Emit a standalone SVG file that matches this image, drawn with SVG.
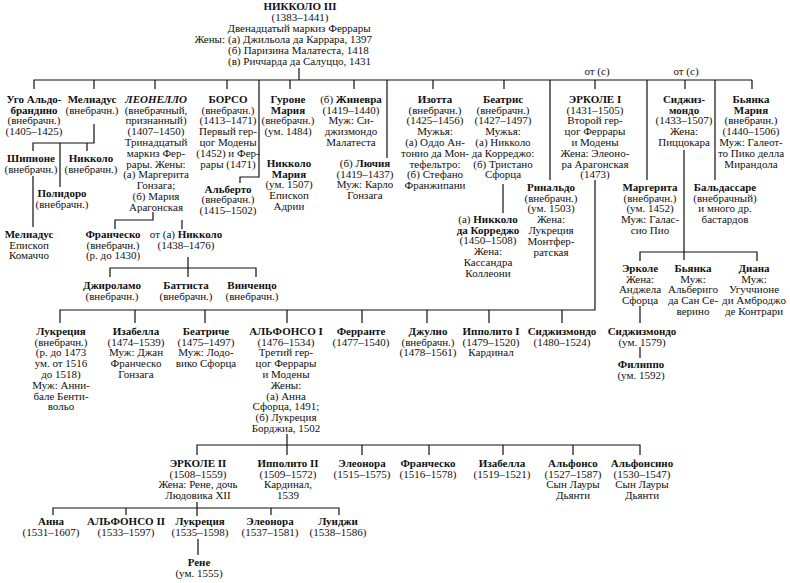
<svg xmlns="http://www.w3.org/2000/svg" width="790" height="583" viewBox="0 0 790 583">
<style>
text{font-family:"Liberation Serif","Times New Roman",serif;font-size:11px;fill:#111;text-anchor:middle}
.b{font-weight:bold}
.i{font-style:italic}
.ln{fill:none;stroke:#111;stroke-width:1.2}
</style>
<rect width="790" height="583" fill="#fff"/>
<g id="connectors" class="ln">
<path d="M299 68V80M34 89V80H752M94 80V89M155 80V89M227 80V89M290 80V89M354 80V89M433 80V89M504 80V89M595 80V89M685 80V89M752 80V89"/>
<path d="M259 80V177H240V183M387 80V158M550 80V180M647 80V180M715 80V180"/>
<path d="M94 124V143H33V151M60 143V187M87 143V151M33 176V227"/>
<path d="M153 212V220H115V229M182 220V229M188 257V277M110 277V268H256V277"/>
<path d="M595 180V310H60V323M135 310V323M205 310V323M287 310V323M362 310V323M427 310V323M489 310V323M562 310V323"/>
<path d="M503 184V213"/>
<path d="M684 150V260M640 261V252H757V261M640 306V323M640 347V358"/>
<path d="M287 434V455M197 455V445H640V455M362 445V455M429 445V455M503 445V455M573 445V455"/>
<path d="M197 502V516M53 515V508H339V515M126 508V515M271 508V515M198 539V555"/>
</g>
<g id="n-niccolo3"><text><tspan class="b" x="300" y="10.3">НИККОЛО III</tspan><tspan x="300" y="21.3">(1383–1441)</tspan><tspan x="299" y="32.3">Двенадцатый маркиз Феррары</tspan><tspan x="225" y="43.3" style="text-anchor:end">Жены:</tspan></text>
<text style="text-anchor:start"><tspan x="228" y="43.3">(а) Джильола да Каррара, 1397</tspan><tspan x="228" y="54.3">(б) Паризина Малатеста, 1418</tspan><tspan x="228" y="65.3">(в) Риччарда да Салуццо, 1431</tspan></text></g>
<g id="lbl-c1"><text x="597" y="74.5">от (с)</text></g>
<g id="lbl-c2"><text x="686" y="74.5">от (с)</text></g>
<g id="n-ugo"><text><tspan class="b" x="34" y="102.8">Уго Альдо-</tspan><tspan class="b" x="34" y="113.6">брандино</tspan><tspan x="34" y="124.4">(внебрачн.)</tspan><tspan x="34" y="135.2">(1405–1425)</tspan></text></g>
<g id="n-meliaduse"><text><tspan class="b" x="92" y="102.8">Мелиадус</tspan><tspan x="92" y="113.6">(внебрачн.)</tspan></text></g>
<g id="n-leonello"><text><tspan class="b i" x="156" y="102.8">ЛЕОНЕЛЛО</tspan><tspan x="156" y="113.6">(внебрачный,</tspan><tspan x="156" y="124.4">признанный)</tspan><tspan x="156" y="135.2">(1407–1450)</tspan><tspan x="156" y="146">Тринадцатый</tspan><tspan x="156" y="156.8">маркиз Фер-</tspan><tspan x="156" y="167.6">рары. Жены:</tspan><tspan x="156" y="178.4">(а) Маргерита</tspan><tspan x="156" y="189.2">Гонзага;</tspan><tspan x="156" y="200">(б) Мария</tspan><tspan x="156" y="210.8">Арагонская</tspan></text></g>
<g id="n-borso"><text><tspan class="b" x="228" y="102.8">БОРСО</tspan><tspan x="228" y="113.6">(внебрачн.)</tspan><tspan x="228" y="124.4">(1413–1471)</tspan><tspan x="228" y="135.2">Первый гер-</tspan><tspan x="228" y="146">цог Модены</tspan><tspan x="228" y="156.8">(1452) и Фер-</tspan><tspan x="228" y="167.6">рары (1471)</tspan></text></g>
<g id="n-gurone"><text><tspan class="b" x="288" y="102.8">Гуроне</tspan><tspan class="b" x="288" y="113.6">Мария</tspan><tspan x="288" y="124.4">(внебрачн.)</tspan><tspan x="288" y="135.2">(ум. 1484)</tspan></text></g>
<g id="n-ginevra"><text><tspan x="351" y="102.8">(б) <tspan class="b">Жиневра</tspan></tspan><tspan x="351" y="113.6">(1419–1440)</tspan><tspan x="351" y="124.4">Муж: Си-</tspan><tspan x="351" y="135.2">джизмондо</tspan><tspan x="351" y="146">Малатеста</tspan></text></g>
<g id="n-isotta"><text><tspan class="b" x="435" y="102.8">Изотта</tspan><tspan x="435" y="113.6">(внебрачн.)</tspan><tspan x="435" y="124.4">(1425–1456)</tspan><tspan x="435" y="135.2">Мужья:</tspan><tspan x="435" y="146">(а) Оддо Ан-</tspan><tspan x="435" y="156.8">тонио да Мон-</tspan><tspan x="435" y="167.6">тефельтро:</tspan><tspan x="435" y="178.4">(б) Стефано</tspan><tspan x="435" y="189.2">Франжипани</tspan></text></g>
<g id="n-beatrice1"><text><tspan class="b" x="503" y="102.8">Беатрис</tspan><tspan x="503" y="113.6">(внебрачн.)</tspan><tspan x="503" y="124.4">(1427–1497)</tspan><tspan x="503" y="135.2">Мужья:</tspan><tspan x="503" y="146">(а) Никколо</tspan><tspan x="503" y="156.8">да Корреджо:</tspan><tspan x="503" y="167.6">(б) Тристано</tspan><tspan x="503" y="178.4">Сфорца</tspan></text></g>
<g id="n-ercole1"><text><tspan class="b" x="595" y="102.8">ЭРКОЛЕ I</tspan><tspan x="595" y="113.6">(1431–1505)</tspan><tspan x="595" y="124.4">Второй гер-</tspan><tspan x="595" y="135.2">цог Феррары</tspan><tspan x="595" y="146">и Модены</tspan><tspan x="595" y="156.8">Жена: Элеоно-</tspan><tspan x="595" y="167.6">ра Арагонская</tspan><tspan x="595" y="178.4">(1473)</tspan></text></g>
<g id="n-sigismondo1"><text><tspan class="b" x="684" y="102.8">Сиджиз-</tspan><tspan class="b" x="684" y="113.6">мондо</tspan><tspan x="684" y="124.4">(1433–1507)</tspan><tspan x="684" y="135.2">Жена:</tspan><tspan x="684" y="146">Пиццокара</tspan></text></g>
<g id="n-bianca-maria"><text><tspan class="b" x="751" y="102.8">Бьянка</tspan><tspan class="b" x="751" y="113.6">Мария</tspan><tspan x="751" y="124.4">(внебрачн.)</tspan><tspan x="751" y="135.2">(1440–1506)</tspan><tspan x="751" y="146">Муж: Галеот-</tspan><tspan x="751" y="156.8">то Пико делла</tspan><tspan x="751" y="167.6">Мирандола</tspan></text></g>
<g id="n-scipione"><text><tspan class="b" x="31" y="161.8">Шипионе</tspan><tspan x="31" y="172.6">(внебрачн.)</tspan></text></g>
<g id="n-niccolo-m"><text><tspan class="b" x="91" y="161.8">Никколо</tspan><tspan x="91" y="172.6">(внебрачн.)</tspan></text></g>
<g id="n-polidoro"><text><tspan class="b" x="62" y="196.8">Полидоро</tspan><tspan x="62" y="207.6">(внебрачн.)</tspan></text></g>
<g id="n-meliaduse2"><text><tspan class="b" x="29" y="237.8">Мелиадус</tspan><tspan x="29" y="248.6">Епископ</tspan><tspan x="29" y="259.4">Комаччо</tspan></text></g>
<g id="n-niccolo-maria"><text><tspan class="b" x="289" y="166.8">Никколо</tspan><tspan class="b" x="289" y="177.6">Мария</tspan><tspan x="289" y="188.4">(ум. 1507)</tspan><tspan x="289" y="199.2">Епископ</tspan><tspan x="289" y="210">Адрии</tspan></text></g>
<g id="n-lucia"><text><tspan x="365" y="166.8">(б) <tspan class="b">Лючия</tspan></tspan><tspan x="365" y="177.6">(1419–1437)</tspan><tspan x="365" y="188.4">Муж: Карло</tspan><tspan x="365" y="199.2">Гонзага</tspan></text></g>
<g id="n-alberto"><text><tspan class="b" x="228" y="192.5">Альберто</tspan><tspan x="228" y="203.3">(внебрачн.)</tspan><tspan x="228" y="214.1">(1415–1502)</tspan></text></g>
<g id="n-rinaldo"><text><tspan class="b" x="551" y="190.8">Ринальдо</tspan><tspan x="551" y="201.6">(внебрачн.)</tspan><tspan x="551" y="212.4">(ум. 1503)</tspan><tspan x="551" y="223.2">Жена:</tspan><tspan x="551" y="234">Лукреция</tspan><tspan x="551" y="244.8">Монтфер-</tspan><tspan x="551" y="255.6">ратская</tspan></text></g>
<g id="n-margherita"><text><tspan class="b" x="650" y="190.8">Маргерита</tspan><tspan x="650" y="201.6">(внебрачн.)</tspan><tspan x="650" y="212.4">(ум. 1452)</tspan><tspan x="650" y="223.2">Муж: Галас-</tspan><tspan x="650" y="234">сио Пио</tspan></text></g>
<g id="n-baldassare"><text><tspan class="b" x="725" y="190.8">Бальдассаре</tspan><tspan x="725" y="201.6">(внебрачный)</tspan><tspan x="725" y="212.4">и много др.</tspan><tspan x="725" y="223.2">бастардов</tspan></text></g>
<g id="n-niccolo-correggio"><text><tspan x="488" y="222.8">(а) <tspan class="b">Никколо</tspan></tspan><tspan class="b" x="488" y="233.6">да Корреджо</tspan><tspan x="488" y="244.4">(1450–1508)</tspan><tspan x="488" y="255.2">Жена:</tspan><tspan x="488" y="266">Кассандра</tspan><tspan x="488" y="276.8">Коллеони</tspan></text></g>
<g id="n-francesco1"><text><tspan class="b" x="113" y="237.8">Франческо</tspan><tspan x="113" y="248.6">(внебрачн.)</tspan><tspan x="113" y="259.4">(р. до 1430)</tspan></text></g>
<g id="n-niccolo-1438"><text><tspan x="186" y="237.8">от (а) <tspan class="b">Никколо</tspan></tspan><tspan x="186" y="248.6">(1438–1476)</tspan></text></g>
<g id="n-girolamo"><text><tspan class="b" x="112" y="288.8">Джироламо</tspan><tspan x="112" y="299.6">(внебрачн.)</tspan></text></g>
<g id="n-battista"><text><tspan class="b" x="186" y="288.8">Баттиста</tspan><tspan x="186" y="299.6">(внебрачн.)</tspan></text></g>
<g id="n-vincenzo"><text><tspan class="b" x="252" y="288.8">Винченцо</tspan><tspan x="252" y="299.6">(внебрачн.)</tspan></text></g>
<g id="n-ercole-s"><text><tspan class="b" x="640" y="271.8">Эрколе</tspan><tspan x="640" y="282.6">Жена:</tspan><tspan x="640" y="293.4">Анджела</tspan><tspan x="640" y="304.2">Сфорца</tspan></text></g>
<g id="n-bianca-s"><text><tspan class="b" x="693" y="271.8">Бьянка</tspan><tspan x="693" y="282.6">Муж:</tspan><tspan x="693" y="293.4">Альбериго</tspan><tspan x="693" y="304.2">да Сан Се-</tspan><tspan x="693" y="315">верино</tspan></text></g>
<g id="n-diana"><text><tspan class="b" x="754" y="271.8">Диана</tspan><tspan x="754" y="282.6">Муж:</tspan><tspan x="754" y="293.4">Угуччионе</tspan><tspan x="754" y="304.2">ди Амброджо</tspan><tspan x="754" y="315">де Контрари</tspan></text></g>
<g id="n-sigismondo-1579"><text><tspan class="b" x="642" y="334.8">Сиджизмондо</tspan><tspan x="642" y="345.6">(ум. 1579)</tspan></text></g>
<g id="n-filippo"><text><tspan class="b" x="641" y="367.8">Филиппо</tspan><tspan x="641" y="378.6">(ум. 1592)</tspan></text></g>
<g id="n-lucrezia1"><text><tspan class="b" x="61" y="334.8">Лукреция</tspan><tspan x="61" y="345.6">(внебрачн.)</tspan><tspan x="61" y="356.4">(р. до 1473</tspan><tspan x="61" y="367.2">ум. от 1516</tspan><tspan x="61" y="378">до 1518)</tspan><tspan x="61" y="388.8">Муж: Анни-</tspan><tspan x="61" y="399.6">бале Бенти-</tspan><tspan x="61" y="410.4">вольо</tspan></text></g>
<g id="n-isabella1"><text><tspan class="b" x="136" y="334.8">Изабелла</tspan><tspan x="136" y="345.6">(1474–1539)</tspan><tspan x="136" y="356.4">Муж: Джан</tspan><tspan x="136" y="367.2">Франческо</tspan><tspan x="136" y="378">Гонзага</tspan></text></g>
<g id="n-beatrice2"><text><tspan class="b" x="206" y="334.8">Беатриче</tspan><tspan x="206" y="345.6">(1475–1497)</tspan><tspan x="206" y="356.4">Муж: Лодо-</tspan><tspan x="206" y="367.2">вико Сфорца</tspan></text></g>
<g id="n-alfonso1"><text><tspan class="b" x="286" y="334.8">АЛЬФОНСО I</tspan><tspan x="286" y="345.6">(1476–1534)</tspan><tspan x="286" y="356.4">Третий гер-</tspan><tspan x="286" y="367.2">цог Феррары</tspan><tspan x="286" y="378">и Модены</tspan><tspan x="286" y="388.8">Жены:</tspan><tspan x="286" y="399.6">(а) Анна</tspan><tspan x="286" y="410.4">Сфорца, 1491;</tspan><tspan x="286" y="421.2">(б) Лукреция</tspan><tspan x="286" y="432">Борджиа, 1502</tspan></text></g>
<g id="n-ferrante"><text><tspan class="b" x="361" y="334.8">Ферранте</tspan><tspan x="361" y="345.6">(1477–1540)</tspan></text></g>
<g id="n-giulio"><text><tspan class="b" x="428" y="334.8">Джулио</tspan><tspan x="428" y="345.6">(внебрачн.)</tspan><tspan x="428" y="356.4">(1478–1561)</tspan></text></g>
<g id="n-ippolito1"><text><tspan class="b" x="491" y="334.8">Ипполито I</tspan><tspan x="491" y="345.6">(1479–1520)</tspan><tspan x="491" y="356.4">Кардинал</tspan></text></g>
<g id="n-sigismondo2"><text><tspan class="b" x="562" y="334.8">Сиджизмондо</tspan><tspan x="562" y="345.6">(1480–1524)</tspan></text></g>
<g id="n-ercole2"><text><tspan class="b" x="198" y="466.8">ЭРКОЛЕ II</tspan><tspan x="198" y="477.6">(1508–1559)</tspan><tspan x="198" y="488.4">Жена: Рене, дочь</tspan><tspan x="198" y="499.2">Людовика XII</tspan></text></g>
<g id="n-ippolito2"><text><tspan class="b" x="288" y="466.8">Ипполито II</tspan><tspan x="288" y="477.6">(1509–1572)</tspan><tspan x="288" y="488.4">Кардинал,</tspan><tspan x="288" y="499.2">1539</tspan></text></g>
<g id="n-eleonora1"><text><tspan class="b" x="362" y="466.8">Элеонора</tspan><tspan x="362" y="477.6">(1515–1575)</tspan></text></g>
<g id="n-francesco2"><text><tspan class="b" x="428" y="466.8">Франческо</tspan><tspan x="428" y="477.6">(1516–1578)</tspan></text></g>
<g id="n-isabella2"><text><tspan class="b" x="502" y="466.8">Изабелла</tspan><tspan x="502" y="477.6">(1519–1521)</tspan></text></g>
<g id="n-alfonso-d"><text><tspan class="b" x="573" y="466.8">Альфонсо</tspan><tspan x="573" y="477.6">(1527–1587)</tspan><tspan x="573" y="488.4">Сын Лауры</tspan><tspan x="573" y="499.2">Дьянти</tspan></text></g>
<g id="n-alfonsino"><text><tspan class="b" x="642" y="466.8">Альфонсино</tspan><tspan x="642" y="477.6">(1530–1547)</tspan><tspan x="642" y="488.4">Сын Лауры</tspan><tspan x="642" y="499.2">Дьянти</tspan></text></g>
<g id="n-anna"><text><tspan class="b" x="51" y="524.8">Анна</tspan><tspan x="51" y="535.6">(1531–1607)</tspan></text></g>
<g id="n-alfonso2"><text><tspan class="b" x="126" y="524.8">АЛЬФОНСО II</tspan><tspan x="126" y="535.6">(1533–1597)</tspan></text></g>
<g id="n-lucrezia2"><text><tspan class="b" x="200" y="524.8">Лукреция</tspan><tspan x="200" y="535.6">(1535–1598)</tspan></text></g>
<g id="n-eleonora2"><text><tspan class="b" x="270" y="524.8">Элеонора</tspan><tspan x="270" y="535.6">(1537–1581)</tspan></text></g>
<g id="n-luigi"><text><tspan class="b" x="338" y="524.8">Луиджи</tspan><tspan x="338" y="535.6">(1538–1586)</tspan></text></g>
<g id="n-rene"><text><tspan class="b" x="199" y="565.8">Рене</tspan><tspan x="199" y="576.6">(ум. 1555)</tspan></text></g>
</svg>
